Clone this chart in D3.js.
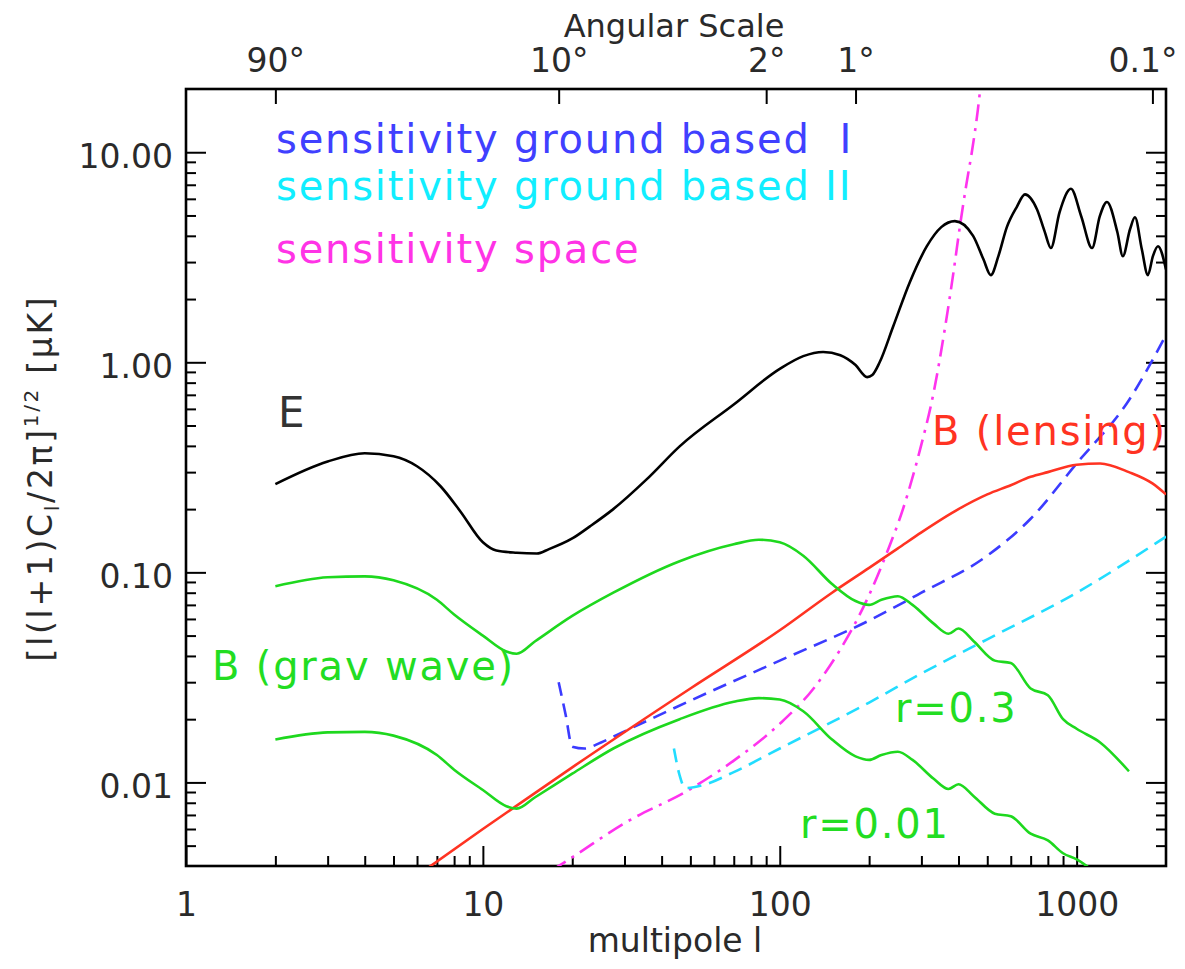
<!DOCTYPE html>
<html>
<head>
    <meta charset="UTF-8">
    <title>CMB polarization spectra</title>
    <script src="https://d3js.org/d3.v7.min.js"></script>
    <style>
        body {
            margin: 0;
            background: #fff;
        }

        svg text {
            font-family: "DejaVu Sans", sans-serif;
        }

        .tick text {
            font-size: 33px;
            fill: #2a2a2a;
        }

        .tick line {
            stroke: #000;
            stroke-width: 2;
        }

        .curve {
            fill: none;
            stroke-width: 2.6px;
        }

        .note {
            font-size: 40px;
            letter-spacing: 1.8px;
        }
    </style>
</head>
<body>
    <div id="chart"></div>

    <script>
        // E-mode spectrum
        const eL = [2, 3, 4, 5, 6, 7.2, 8.4, 10, 11.1, 13, 15.2, 16.7, 20, 23, 27.5, 35.6, 46, 70, 100, 120,
            140, 160, 180, 197, 205, 217, 241, 274, 313, 350, 389, 448, 485, 514, 545, 582, 629, 670, 735, 780,
            819, 876, 957, 1036, 1127, 1197, 1265, 1371, 1431, 1513, 1572, 1658, 1738, 1807, 1879, 2000];
        const eAmp = [0.263, 0.337, 0.369, 0.357, 0.32, 0.257, 0.195, 0.139, 0.127, 0.124, 0.123, 0.129, 0.145, 0.166, 0.2, 0.277, 0.398, 0.63, 0.93, 1.07,
            1.12, 1.08, 0.97, 0.85, 0.87, 1.0, 1.48, 2.4, 3.57, 4.4, 4.7, 4.0, 3.1, 2.6, 3.2, 4.4, 5.5, 6.3, 5.35, 4.2,
            3.5, 5.18, 6.7, 4.96, 3.5, 4.96, 5.8, 4.17, 3.2, 4.3, 4.9, 3.45, 2.6, 3.2, 3.57, 2.77];

        // B-mode from gravitational waves, r=0.3 and r=0.01
        const gwL = [2, 3, 4, 5, 7, 8, 10, 12, 13, 15, 20, 27.5, 46, 70, 85, 100, 120, 150, 180, 200,
            220, 250, 280, 330, 370, 400, 450, 530, 600, 700, 800, 900, 1000, 1200, 1500];
        const gwHigh = [0.0858, 0.0947, 0.0957, 0.0916, 0.074, 0.063, 0.05, 0.042, 0.041, 0.047, 0.062, 0.08, 0.113, 0.136, 0.143, 0.139, 0.12, 0.088, 0.073, 0.07,
            0.074, 0.077, 0.07, 0.057, 0.051, 0.054, 0.047, 0.038, 0.037, 0.028, 0.026, 0.02, 0.018, 0.0155, 0.0113];
        const gwLow = [0.016, 0.0173, 0.0174, 0.0167, 0.0135, 0.0115, 0.0092, 0.0077, 0.0075, 0.0085, 0.011, 0.0145, 0.02, 0.0242, 0.0252, 0.0248, 0.0218, 0.016, 0.0133, 0.0128,
            0.0135, 0.014, 0.0128, 0.0104, 0.0093, 0.0098, 0.0086, 0.0071, 0.0069, 0.0057, 0.0053, 0.0046, 0.0043, 0.0036, 0.003];

        // B-mode from lensing
        const lensL = [6, 10, 20, 50, 100, 150, 200, 250, 300, 400, 500, 600, 700, 800, 1000, 1200, 1500, 1800, 2000];
        const lensAmp = [0.0036, 0.006, 0.0118, 0.028, 0.053, 0.08, 0.105, 0.13, 0.155, 0.2, 0.235, 0.26, 0.285, 0.3, 0.325, 0.33, 0.3, 0.265, 0.235];

        // sensitivity curves
        const groundIL = [18, 19, 20, 22, 25, 30, 50, 100, 200, 300, 500, 700, 1000, 1500, 2000];
        const groundIAmp = [0.03, 0.021, 0.0148, 0.0145, 0.0155, 0.0175, 0.0245, 0.038, 0.059, 0.08, 0.12, 0.18, 0.33, 0.66, 1.35];
        const groundIIL = [44, 46, 48, 55, 70, 100, 200, 300, 500, 1000, 2000];
        const groundIIAmp = [0.0145, 0.0108, 0.0094, 0.0097, 0.0112, 0.0145, 0.024, 0.033, 0.048, 0.08, 0.148];
        const spaceL = [17, 20, 30, 50, 70, 100, 130, 160, 200, 230, 260, 297, 330, 360, 385, 405, 425, 445, 465, 480];
        const spaceAmp = [0.0038, 0.0044, 0.0064, 0.0093, 0.0127, 0.019, 0.028, 0.043, 0.078, 0.125, 0.2, 0.385, 0.72, 1.45, 2.7, 4.5, 7.0, 10.3, 16, 24];

        // axis ticks
        const yMajor = [0.01, 0.1, 1, 10];
        const xMajor = [1, 10, 100, 1000];
        const angles = [90, 10, 2, 1, 0.1];

        const width = 1185;
        const height = 969;
        const pLeft = 186, pRight = 1166, pTop = 89, pBottom = 866;

        const svg = d3.select("#chart")
            .append("svg")
            .attr("width", width)
            .attr("height", height);

        svg.append("rect").attr("width", width).attr("height", height).attr("fill", "#fff");

        const x = d3.scaleLog().domain([1, 2000]).range([pLeft, pRight]);
        const y = d3.scaleLog().domain([0.004, 20]).range([pBottom, pTop]);

        // minor ticks: 2..9 in each decade
        function minors(lo, hi) {
            const out = [];
            for (let d = lo; d < hi; d *= 10) {
                for (let k = 2; k <= 9; k++) out.push(k * d);
            }
            return out;
        }
        const yMinor = minors(0.001, 100).filter(v => v > 0.0041 && v < 20);
        const xMinor = minors(1, 10000).filter(v => v < 2000);

        // left axis
        const gLeft = svg.append("g").attr("transform", `translate(${pLeft},0)`);
        gLeft.call(d3.axisLeft(y).tickValues(yMajor).tickFormat(d => d.toFixed(2))
            .tickSizeInner(-20).tickSizeOuter(0).tickPadding(13));
        gLeft.selectAll(".tick text").attr("dy", "0.45em");
        gLeft.append("g").call(d3.axisLeft(y).tickValues(yMinor).tickFormat("").tickSizeInner(-10).tickSizeOuter(0));

        // right axis
        const gRight = svg.append("g").attr("transform", `translate(${pRight},0)`);
        gRight.call(d3.axisRight(y).tickValues(yMajor).tickFormat("").tickSizeInner(-20).tickSizeOuter(0));
        gRight.append("g").call(d3.axisRight(y).tickValues(yMinor).tickFormat("").tickSizeInner(-10).tickSizeOuter(0));

        // bottom axis
        const gBottom = svg.append("g").attr("transform", `translate(0,${pBottom})`);
        gBottom.call(d3.axisBottom(x).tickValues(xMajor).tickFormat(d3.format("d"))
            .tickSizeInner(-20).tickSizeOuter(0).tickPadding(27));
        gBottom.append("g").call(d3.axisBottom(x).tickValues(xMinor).tickFormat("").tickSizeInner(-10).tickSizeOuter(0));

        // top axis: angular scale, l = 180 / theta
        const gTop = svg.append("g").attr("transform", `translate(0,${pTop})`);
        gTop.call(d3.axisTop(x).tickValues(angles.map(a => 180 / a))
            .tickFormat(l => `${+(180 / l).toPrecision(2)}°`)
            .tickSizeInner(-15).tickSizeOuter(0).tickPadding(17));
        // last label hugs the right edge
        gTop.selectAll(".tick text").filter(l => l > 1000).attr("dx", -10);

        svg.selectAll(".domain").remove();

        // frame
        svg.append("rect")
            .attr("x", pLeft).attr("y", pTop)
            .attr("width", pRight - pLeft).attr("height", pBottom - pTop)
            .attr("fill", "none").attr("stroke", "#000").attr("stroke-width", 2.6);

        // titles
        svg.append("text")
            .attr("x", 674).attr("y", 37)
            .attr("text-anchor", "middle")
            .attr("font-size", 32).attr("fill", "#2a2a2a")
            .text("Angular Scale");

        svg.append("text")
            .attr("x", 675).attr("y", 952)
            .attr("text-anchor", "middle")
            .attr("font-size", 33).attr("fill", "#2a2a2a")
            .text("multipole l");

        const yTitle = svg.append("text")
            .attr("transform", "translate(52,478) rotate(-90)")
            .attr("text-anchor", "middle")
            .attr("font-size", 33).attr("fill", "#2a2a2a")
            .style("letter-spacing", "2.7px");
        yTitle.append("tspan").text("[l(l+1)C");
        yTitle.append("tspan").attr("font-size", 20).attr("dy", 7).text("l");
        yTitle.append("tspan").attr("dy", -7).text("/2π]");
        yTitle.append("tspan").attr("font-size", 20).attr("dy", -14).text("1/2");
        yTitle.append("tspan").attr("dy", 14).text(" [μK]");

        // curves
        svg.append("clipPath").attr("id", "plot-clip")
            .append("rect")
            .attr("x", pLeft).attr("y", pTop)
            .attr("width", pRight - pLeft).attr("height", pBottom - pTop);

        const plot = svg.append("g").attr("clip-path", "url(#plot-clip)");

        const line = d3.line()
            .x(d => x(d[0]))
            .y(d => y(d[1]))
            .curve(d3.curveMonotoneX);

        const curves = [
            {l: spaceL, v: spaceAmp, color: "#ff33ee", dash: "17,7,3,7"},
            {l: groundIIL, v: groundIIAmp, color: "#22ddff", dash: "14,8"},
            {l: groundIL, v: groundIAmp, color: "#3b3bff", dash: "14,8"},
            {l: lensL, v: lensAmp, color: "#ff3322", dash: null},
            {l: gwL, v: gwHigh, color: "#1ed81e", dash: null},
            {l: gwL, v: gwLow, color: "#1ed81e", dash: null},
            {l: eL, v: eAmp, color: "#000", dash: null}
        ];

        plot.selectAll("path.curve")
            .data(curves)
            .join("path")
            .attr("class", "curve")
            .attr("stroke", d => d.color)
            .attr("stroke-dasharray", d => d.dash)
            .attr("d", d => line(d.l.map((l, i) => [l, d.v[i]])));

        // annotations
        const notes = [
            {text: "sensitivity ground based\u00a0\u00a0I", x: 276, y: 153, color: "#4040ff"},
            {text: "sensitivity ground based II", x: 276, y: 200, color: "#11eeff"},
            {text: "sensitivity space", x: 276, y: 263, color: "#ff33e6"},
            {text: "B (lensing)", x: 932, y: 445, color: "#ff3322"},
            {text: "B (grav wave)", x: 212, y: 680, color: "#22dd22"},
            {text: "r=0.3", x: 895, y: 722, color: "#22dd22"},
            {text: "r=0.01", x: 800, y: 838, color: "#22dd22"}
        ];

        svg.selectAll("text.note")
            .data(notes)
            .join("text")
            .attr("class", "note")
            .attr("x", d => d.x).attr("y", d => d.y)
            .attr("fill", d => d.color)
            .text(d => d.text);

        svg.append("text")
            .attr("x", 278).attr("y", 427)
            .attr("font-size", 42).attr("fill", "#333")
            .text("E");
    </script>
</body>
</html>
